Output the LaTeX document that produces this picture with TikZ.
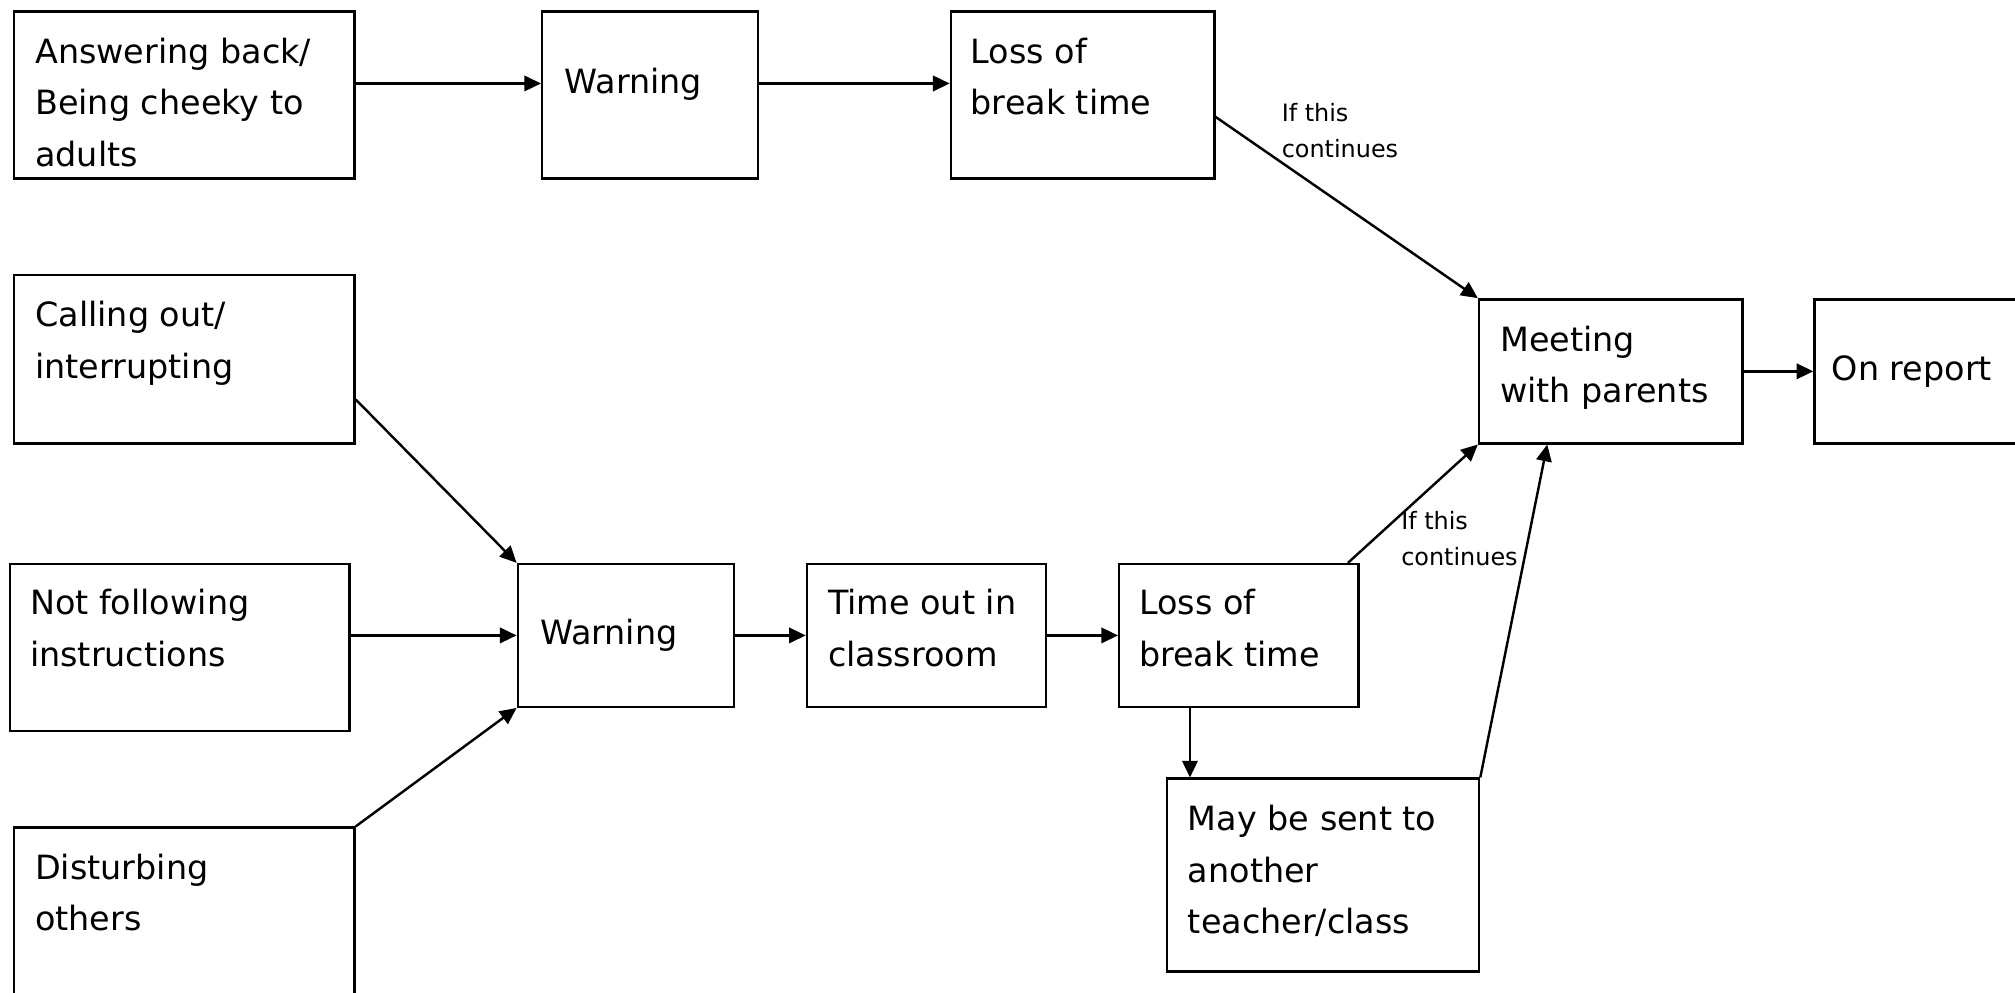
\documentclass[tikz,border=0pt]{standalone}
\usepackage{fontspec}
\setmainfont{DejaVu Sans}
\usetikzlibrary{arrows.meta}
\tikzset{
  box/.style={draw, line width=0.95pt, rectangle, inner sep=0pt, anchor=north west},
  txt/.style={inner sep=0pt, anchor=north west, align=left, font=\fontsize{13}{20}\selectfont},
  lbl/.style={inner sep=0pt, anchor=north west, align=left, font=\fontsize{9.3}{14}\selectfont},
  arr/.style={line width=0.95pt, -{Triangle[length=6.5pt,width=6pt]}},
}
\begin{document}
\begin{tikzpicture}[x=0.5pt,y=-0.5pt]
\useasboundingbox (0,0) rectangle (1568,772);
\clip (0,0) rectangle (1568,772);
\fill[white] (0,0) rectangle (1568,772);
% boxes
\node[box, minimum width=132.5pt, minimum height=65pt] (A) at (10,8) {};
\node[box, minimum width=84pt, minimum height=65pt] (W1) at (421,8) {};
\node[box, minimum width=102.5pt, minimum height=65pt] (L1) at (739,8) {};
\node[box, minimum width=102.5pt, minimum height=56pt] (M) at (1150,232) {};
\node[box, minimum width=100pt, minimum height=56pt] (R) at (1411,232) {};
\node[box, minimum width=132.5pt, minimum height=65.5pt] (C) at (10,213) {};
\node[box, minimum width=132pt, minimum height=65pt] (N) at (7,438) {};
\node[box, minimum width=132.5pt, minimum height=80pt] (D) at (10,643) {};
\node[box, minimum width=84pt, minimum height=55.5pt] (W2) at (402,438) {};
\node[box, minimum width=93pt, minimum height=55.5pt] (T) at (627,438) {};
\node[box, minimum width=93pt, minimum height=55.5pt] (L2) at (870,438) {};
\node[box, minimum width=121.5pt, minimum height=75pt] (S) at (907,605) {};
% texts
\node[txt] (At) at (27,21) {\strut Answering back/\\Being cheeky to\\adults};
\node[txt] (W1t) at (439,44) {\strut Warning};
\node[txt] (L1t) at (755,21) {\strut Loss of\\break time};
\node[txt] (Mt) at (1167,245) {\strut Meeting\\with parents};
\node[txt] (Rt) at (1425,268) {\strut On report};
\node[txt] (Ct) at (27,226) {\strut Calling out/\\interrupting};
\node[txt] (Nt) at (23,450) {\strut Not following\\instructions};
\node[txt] (Dt) at (27,656) {\strut Disturbing\\others};
\node[txt] (W2t) at (420,473) {\strut Warning};
\node[txt] (Tt) at (644,450) {\strut Time out in\\classroom};
\node[txt] (L2t) at (886,450) {\strut Loss of\\break time};
\node[txt] (St) at (924,618) {\strut May be sent to\\another\\teacher/class};
\node[lbl] (lab1) at (997,74.4) {\strut If this\\continues};
\node[lbl] (lab2) at (1090,392.4) {\strut If this\\continues};
% connectors
\draw[arr] ([yshift=4.5pt]A.east) -- ([yshift=4.5pt]W1.west);
\draw[arr] ([yshift=4.5pt]W1.east) -- ([yshift=4.5pt]L1.west);
\draw[arr] ([yshift=-8.5pt]L1.east) -- (M.north west);
\draw[arr] (M.east) -- (R.west);
\draw[arr] ([yshift=-15.75pt]C.east) -- (W2.north west);
\draw[arr] (N.east |- W2.west) -- (W2.west);
\draw[arr] (D.north east) -- (W2.south west);
\draw[arr] (W2.east) -- (T.west);
\draw[arr] (T.east) -- (L2.west);
\draw[arr] ([xshift=-4.5pt]L2.north east) -- (M.south west);
\draw[arr] ([xshift=28pt]L2.south west) -- ([xshift=28pt]L2.south west |- S.north);
\draw[arr] (S.north east) -- ([xshift=27pt]M.south west);
\end{tikzpicture}
\end{document}
